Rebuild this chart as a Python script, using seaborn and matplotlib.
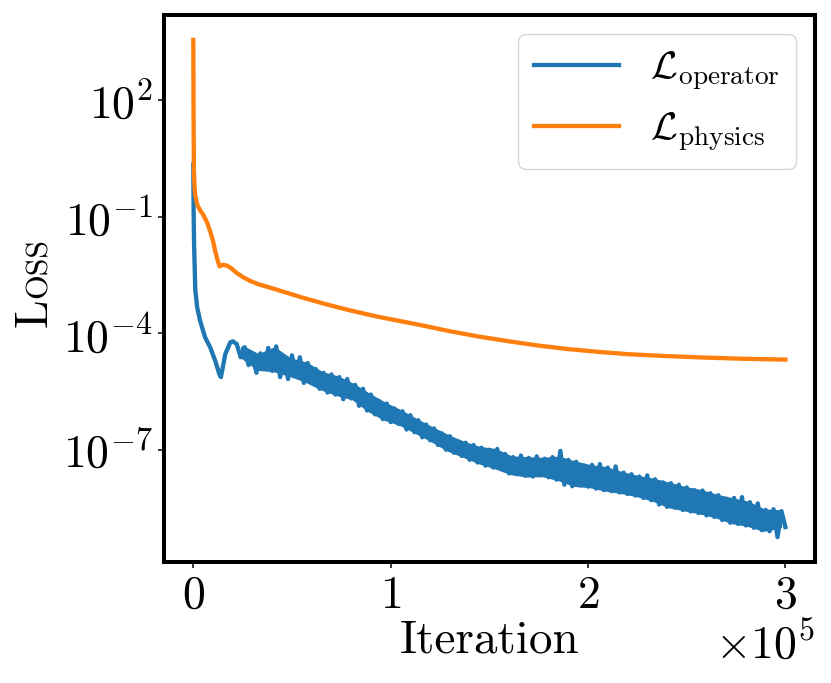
import numpy as np
import pandas as pd
import matplotlib
matplotlib.use("Agg")
import matplotlib.pyplot as plt
import seaborn as sns

# physics loss (iteration, log10 loss)
physics_iter = [0, 100, 200, 300, 600, 1000, 2000, 3500, 5000, 7000, 8600, 10000,
                11100, 12300, 13300, 15000, 17000, 19000, 22000, 25300, 29000, 33000,
                42300, 55000, 67600, 80000, 92900, 105000, 115000, 130000, 145000,
                160000, 175000, 190000, 205000, 220000, 240000, 260000, 280000, 300000]
physics_log = [3.55, 2.0, 1.0, 0.19, -0.21, -0.46, -0.69, -0.84, -0.95, -1.15, -1.39, -1.63,
               -1.89, -2.12, -2.28, -2.24, -2.26, -2.32, -2.45, -2.56, -2.66, -2.74,
               -2.88, -3.08, -3.26, -3.42, -3.57, -3.69, -3.79, -3.95, -4.09,
               -4.21, -4.32, -4.41, -4.48, -4.54, -4.59, -4.63, -4.66, -4.68]

# operator loss: fast initial drop, then a noisy band (every 2000 iterations)
operator_iter_start = [0, 150, 400, 700, 1000, 2000, 3500, 6000, 8600, 11100, 13300,
                       14000, 16200, 18700, 20000]
operator_log_start = [0.34, -0.81, -1.72, -2.33, -2.89, -3.35, -3.69, -4.11, -4.37, -4.71,
                      -5.07, -5.13, -4.54, -4.24, -4.21]
operator_iter_band = list(range(22000, 300001, 2000))
operator_log_band = [
    -4.28, -4.62, -4.36, -4.82, -4.57, -5.02, -4.52, -4.92, -4.38, -4.97,
    -4.34, -5.13, -4.67, -5.18, -4.57, -5.08, -4.62, -5.28, -4.77, -5.23,
    -4.92, -5.43, -5.02, -5.53, -5.06, -5.58, -5.13, -5.70, -5.18, -5.68,
    -5.33, -5.87, -5.43, -5.99, -5.58, -6.09, -5.74, -6.21, -5.81, -6.29,
    -5.94, -6.34, -6.01, -6.48, -6.11, -6.55, -6.24, -6.68, -6.35, -6.76,
    -6.45, -6.88, -6.58, -7.00, -6.65, -7.08, -6.78, -7.16, -6.82, -7.26,
    -6.88, -7.33, -6.95, -7.41, -7.00, -7.46, -6.98, -7.49, -7.11, -7.61,
    -7.19, -7.63, -7.15, -7.67, -7.21, -7.69, -7.17, -7.66, -7.23, -7.71,
    -7.19, -7.77, -7.03, -7.90, -7.26, -7.94, -7.31, -7.92, -7.41, -7.95,
    -7.39, -8.00, -7.37, -8.04, -7.46, -8.07, -7.43, -8.10, -7.59, -8.14,
    -7.63, -8.18, -7.69, -8.24, -7.66, -8.30, -7.76, -8.41, -7.84, -8.47,
    -7.86, -8.49, -7.90, -8.55, -7.97, -8.59, -8.04, -8.63, -8.05, -8.69,
    -8.12, -8.73, -8.17, -8.81, -8.26, -8.88, -8.24, -8.91, -8.22, -8.95,
    -8.35, -9.01, -8.38, -9.07, -8.55, -9.10, -8.53, -9.25, -8.58, -8.99,
]

operator_df = pd.DataFrame({
    "iteration": operator_iter_start + operator_iter_band,
    "loss": 10.0 ** np.array(operator_log_start + operator_log_band),
})
# same band values, pooled four at a time, for the solid core of the noise band
band_df = pd.DataFrame({
    "iteration": [operator_iter_band[(i // 4) * 4] + 3000 for i in range(len(operator_iter_band))],
    "loss": 10.0 ** np.array(operator_log_band),
})
physics_df = pd.DataFrame({
    "iteration": physics_iter,
    "loss": 10.0 ** np.array(physics_log),
})

plt.rcParams.update({
    "font.family": "serif",
    "font.serif": ["cmr10"],
    "mathtext.fontset": "cm",
    "axes.formatter.use_mathtext": True,
})

blue = "#1f77b4"
orange = "#ff7f0e"
lw = 3.1

fig, ax = plt.subplots(figsize=(8.31, 6.83), dpi=100)
fig.subplots_adjust(left=163.7 / 831, right=815 / 831, bottom=121 / 683, top=668 / 683)
ax.set_yscale("log")

sns.lineplot(data=band_df, x="iteration", y="loss", ax=ax, color=blue, linewidth=0,
             estimator="median", errorbar=("pi", 30), legend=False,
             err_kws={"alpha": 1, "linewidth": lw, "edgecolor": blue})
sns.lineplot(data=operator_df, x="iteration", y="loss", ax=ax, color=blue, linewidth=lw,
             estimator=None, label=r"$\mathcal{L}_{\rm operator}$")
sns.lineplot(data=physics_df, x="iteration", y="loss", ax=ax, color=orange, linewidth=lw,
             estimator=None, label=r"$\mathcal{L}_{\rm physics}$")

ax.set_yticks([1e2, 1e-1, 1e-4, 1e-7])
ax.yaxis.set_minor_locator(matplotlib.ticker.NullLocator())
ax.set_xticks([0, 100000, 200000, 300000])
ax.ticklabel_format(style="sci", axis="x", scilimits=(0, 0))
ax.xaxis.get_offset_text().set_fontsize(33)

for s in ax.spines.values():
    s.set_linewidth(2.9)
    s.set_color("black")
ax.tick_params(labelsize=33, length=4.5, width=1.1, pad=5)
ax.tick_params(axis="y", pad=3)

ax.set_xlabel("Iteration", fontsize=34, labelpad=2)
ax.set_ylabel("")
ax.legend(loc="upper right", fontsize=28, handlelength=2.2)

# small caps y label
fig.canvas.draw()
renderer = fig.canvas.get_renderer()
tl = fig.text(47 / 831, 356.3 / 683, "L", fontsize=33, rotation=90,
              rotation_mode="anchor", ha="left", va="baseline")
bb = tl.get_window_extent(renderer)
fig.text(47 / 831, bb.y1 / 683, "OSS", fontsize=23, rotation=90,
         rotation_mode="anchor", ha="left", va="baseline")

fig.savefig("out.png", dpi=100)
